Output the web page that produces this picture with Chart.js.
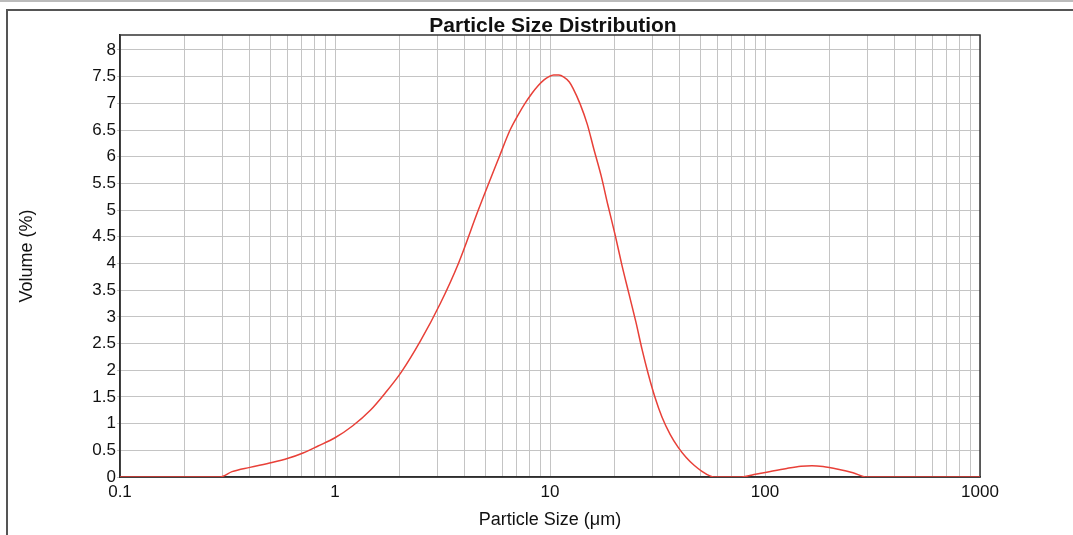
<!DOCTYPE html>
<html>
<head>
<meta charset="utf-8">
<script src="https://cdn.jsdelivr.net/npm/chart.js@4"></script>
<style>
  body { margin: 0; background: #fff; }
  #wrap { position: relative; width: 1073px; height: 535px; }
  .rule { position: absolute; pointer-events: none; }
</style>
</head>
<body>
<div id="wrap">
  <canvas id="psdChart"></canvas>
  <div class="rule" style="left:0;top:0;width:1073px;height:2px;background:#bbb;"></div>
  <div class="rule" style="left:7px;top:9px;width:1066px;height:2px;background:#555;"></div>
  <div class="rule" style="left:6px;top:9px;width:2px;height:526px;background:#555;"></div>
</div>
<script>
// particle size (um) and volume (%)
let sizes = [0.1, 0.2, 0.292, 0.332, 0.402, 0.509, 0.605, 0.71, 0.834, 1.0, 1.21, 1.46,
  1.71, 2.03, 2.49, 3.08, 3.75, 4.64, 5.81, 6.52, 7.1, 7.65, 8.25, 8.8, 9.38, 9.89,
  10.4, 11.0, 11.6, 12.3, 12.8, 13.8, 14.9, 16.0, 17.3, 18.6, 20.1, 21.6, 23.3, 25.1,
  26.8, 28.6, 30.8, 33.2, 36.2, 39.4, 42.9, 46.8, 50.9, 55.5, 57.9, 66, 77.9, 88.9,
  101.8, 126.2, 147, 165.4, 186.1, 218.6, 256.6, 297.2, 500, 1000];
let volumes = [0, 0, 0, 0.1, 0.18, 0.27, 0.35, 0.45, 0.58, 0.735, 0.96, 1.25,
  1.57, 1.96, 2.54, 3.24, 4.0, 5.0, 6.0, 6.5, 6.78, 7.0, 7.19, 7.33, 7.44, 7.5,
  7.53, 7.53, 7.49, 7.4, 7.28, 6.99, 6.61, 6.14, 5.64, 5.09, 4.53, 3.97, 3.43, 2.9,
  2.39, 1.94, 1.49, 1.12, 0.8, 0.56, 0.37, 0.22, 0.107, 0.02, 0, 0, 0, 0.045,
  0.09, 0.16, 0.2, 0.21, 0.195, 0.145, 0.08, 0, 0, 0];

let xTicks = [0.1, 0.2, 0.3, 0.4, 0.5, 0.6, 0.7, 0.8, 0.9,
  1, 2, 3, 4, 5, 6, 7, 8, 9,
  10, 20, 30, 40, 50, 60, 70, 80, 90,
  100, 200, 300, 400, 500, 600, 700, 800, 900, 1000];
let xLabels = [0.1, 1, 10, 100, 1000];
let yTicks = [0, 0.5, 1, 1.5, 2, 2.5, 3, 3.5, 4, 4.5, 5, 5.5, 6, 6.5, 7, 7.5, 8];
let chartTitle = "Particle Size Distribution";

Chart.defaults.font.family = "'Liberation Sans', Arial, sans-serif";
Chart.defaults.color = "#111";

// box round the plot area, and the title centred over it
var plotFrame = {
  id: "plotFrame",
  beforeDatasetsDraw(chart) {
    const a = chart.chartArea;
    const ctx = chart.ctx;
    ctx.save();
    ctx.strokeStyle = "#333";
    ctx.lineWidth = 1.5;
    ctx.strokeRect(a.left, a.top, a.right - a.left, a.bottom - a.top);
    ctx.restore();
  },
  afterDraw(chart) {
    const a = chart.chartArea;
    const ctx = chart.ctx;
    ctx.save();
    ctx.font = "bold 21px 'Liberation Sans', Arial, sans-serif";
    ctx.fillStyle = "#111";
    ctx.textAlign = "center";
    ctx.textBaseline = "alphabetic";
    ctx.fillText(chartTitle, (a.left + a.right) / 2 + 3, 31.5);
    ctx.restore();
  },
};

var psdChart = new Chart(document.getElementById("psdChart"), {
  type: "line",
  data: {
    datasets: [
      {
        label: "Volume",
        data: sizes.map((s, i) => ({ x: s, y: volumes[i] })),
        borderColor: "rgb(232,64,56)",
        borderWidth: 1.5,
        pointRadius: 0,
        cubicInterpolationMode: "monotone",
        fill: false,
      },
    ],
  },
  options: {
    responsive: true,
    maintainAspectRatio: false,
    animation: false,
    layout: { padding: { top: 35, right: 93, bottom: 0, left: 0 } },
    plugins: {
      legend: { display: false },
      tooltip: { enabled: false },
      title: { display: false },
    },
    scales: {
      x: {
        type: "logarithmic",
        min: 0.1,
        max: 1000,
        afterBuildTicks: (axis) => {
          axis.ticks = xTicks.map((v) => ({ value: v }));
        },
        afterFit: (axis) => {
          axis.height = 58;
        },
        grid: { color: "#c4c4c4", lineWidth: 1, drawTicks: false },
        border: { color: "#222", width: 1.5 },
        ticks: {
          autoSkip: false,
          maxRotation: 0,
          padding: 5,
          font: { size: 17 },
          callback: (v) => (xLabels.includes(v) ? String(v) : ""),
        },
        title: {
          display: true,
          text: "Particle Size (μm)",
          font: { size: 18 },
          padding: { top: 0, bottom: 4 },
        },
      },
      y: {
        min: 0,
        max: 8.28,
        afterBuildTicks: (axis) => {
          axis.ticks = yTicks.map((v) => ({ value: v }));
        },
        afterFit: (axis) => {
          axis.width = 120;
        },
        grid: { color: "#c4c4c4", lineWidth: 1, tickLength: 3 },
        border: { color: "#222", width: 1.5 },
        ticks: {
          padding: 1,
          font: { size: 17 },
          callback: (v) => String(v),
        },
        title: {
          display: true,
          text: "Volume (%)",
          font: { size: 18 },
          padding: { top: 16, bottom: 0 },
        },
      },
    },
  },
  plugins: [plotFrame],
});
</script>
</body>
</html>
